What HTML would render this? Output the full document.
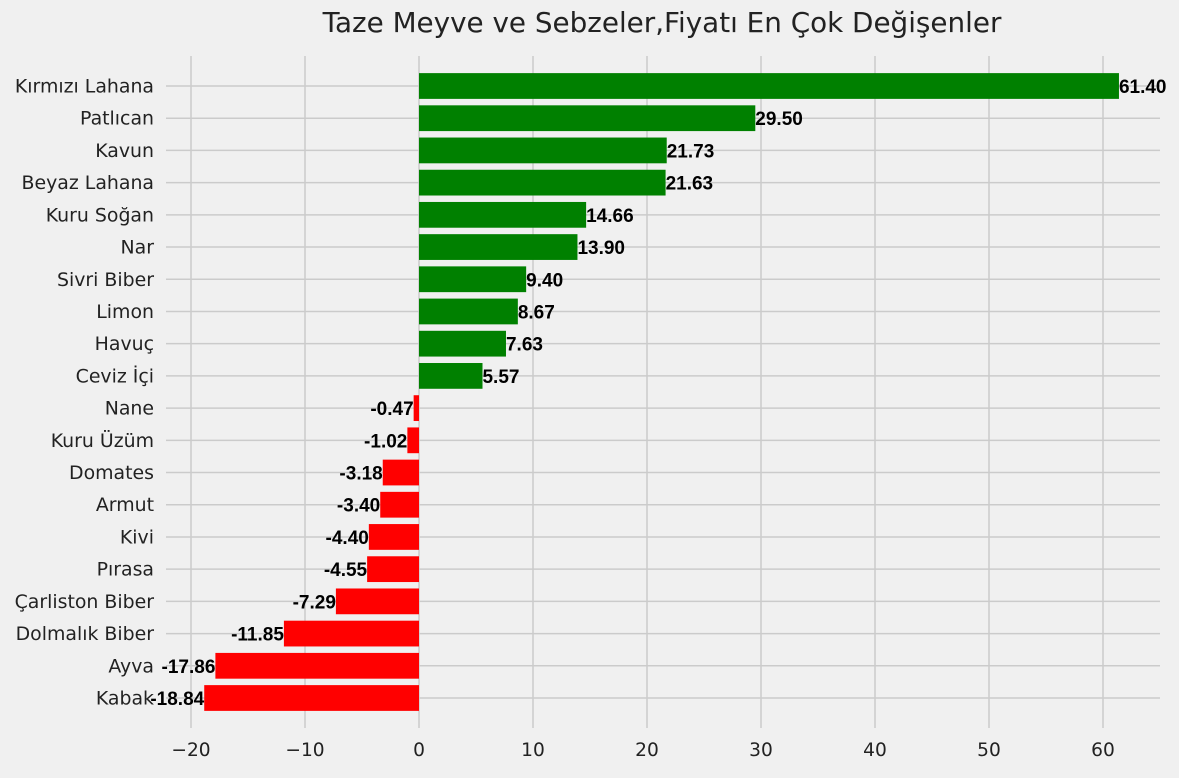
<!DOCTYPE html>
<html><head><meta charset="utf-8"><style>
html,body{margin:0;padding:0;background:#f0f0f0;}
svg{display:block;font-family:"DejaVu Sans","Liberation Sans",sans-serif;}
</style></head><body>
<svg id="chart" width="1179" height="778">
<rect width="1179" height="778" fill="#f0f0f0"/>
<text x="662" y="32" text-anchor="middle" font-size="27.8" fill="#222">Taze Meyve ve Sebzeler,Fiyatı En Çok Değişenler</text>
<g id="grid"></g><g id="bars"></g><g id="labels"></g>
</svg>
<script>
const categories=["Kırmızı Lahana","Patlıcan","Kavun","Beyaz Lahana","Kuru Soğan","Nar","Sivri Biber","Limon","Havuç","Ceviz İçi","Nane","Kuru Üzüm","Domates","Armut","Kivi","Pırasa","Çarliston Biber","Dolmalık Biber","Ayva","Kabak"];
const values=[61.40,29.50,21.73,21.63,14.66,13.90,9.40,8.67,7.63,5.57,-0.47,-1.02,-3.18,-3.40,-4.40,-4.55,-7.29,-11.85,-17.86,-18.84];
const xTicks=[-20,-10,0,10,20,30,40,50,60];
const tickLabels=["−20","−10","0","10","20","30","40","50","60"];
const NS="http://www.w3.org/2000/svg";
const x=v=>419+v*11.4;
const step=612/(categories.length-1);
const y=i=>86+i*step;
const bh=step*0.8;
const grid=document.getElementById('grid'),bars=document.getElementById('bars'),labels=document.getElementById('labels');
function mk(tag,attrs,parent){const e=document.createElementNS(NS,tag);for(const k in attrs)e.setAttribute(k,attrs[k]);parent.appendChild(e);return e;}
xTicks.forEach((t,i)=>{
  const l=mk('line',{x1:x(t),x2:x(t),y1:56,y2:728,stroke:'#cbcbcb','stroke-width':1.5},grid);
  
  
  const tx=mk('text',{x:x(t),y:756,'text-anchor':'middle','font-size':18.6,fill:'#222'},grid);
  tx.textContent=tickLabels[i];
  
  
});
categories.forEach((c,i)=>{
  const l=mk('line',{x1:166,x2:1160,y1:y(i),y2:y(i),stroke:'#cbcbcb','stroke-width':1.5},grid);
  
  
  const tx=mk('text',{x:154,y:y(i)+6.5,'text-anchor':'end','font-size':18.9,fill:'#222'},grid);
  tx.textContent=c;
  
  
  const v=values[i];
  const r=mk('rect',{x:Math.min(x(0),x(v)),y:y(i)-bh/2,width:Math.abs(x(v)-x(0)),height:bh,fill:v>=0?'#008000':'#ff0000'},bars);
  
  
  const vl=mk('text',{x:x(v),y:y(i)+7,'text-anchor':v>=0?'start':'end','font-size':19,'font-weight':'bold',fill:'#000','font-family':'Liberation Sans, sans-serif'},labels);
  vl.textContent=v.toFixed(2);
  
  
});
</script>
</body></html>
